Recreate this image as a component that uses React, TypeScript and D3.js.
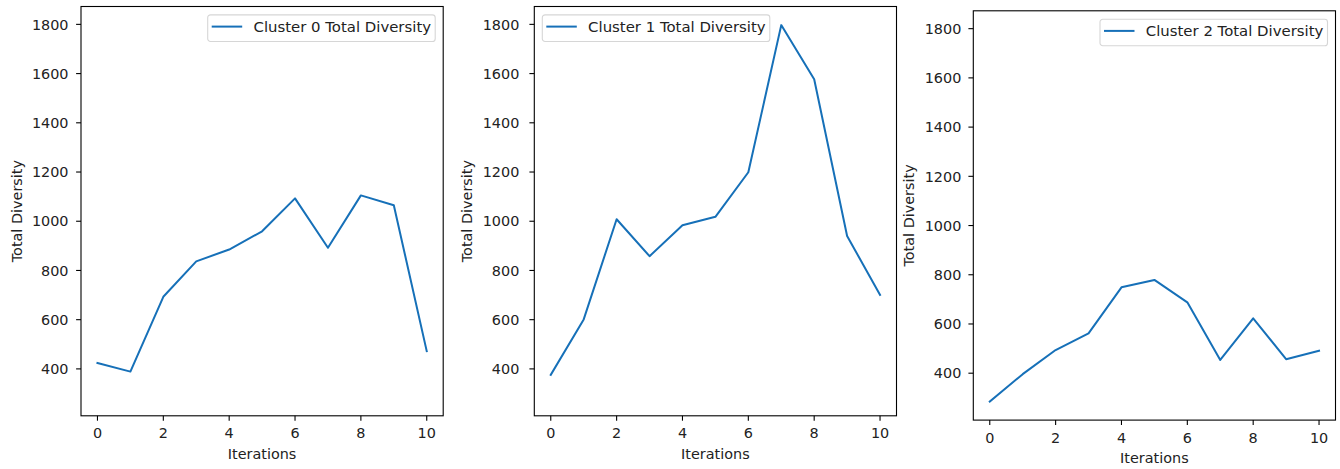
import React from "react";
import * as d3 from "d3";

const iterations = [0, 1, 2, 3, 4, 5, 6, 7, 8, 9, 10];
const cluster0 = [424, 389, 693, 837, 885, 959, 1093, 892, 1105, 1065, 472];
const cluster1 = [376, 601, 1008, 858, 984, 1018, 1199, 1797, 1577, 940, 701];
const cluster2 = [285, 396, 494, 562, 749, 779, 688, 454, 623, 457, 491];
const seriesNames = ["Cluster 0 Total Diversity", "Cluster 1 Total Diversity", "Cluster 2 Total Diversity"];
const xTicks = [0, 2, 4, 6, 8, 10];
const yTicks = [400, 600, 800, 1000, 1200, 1400, 1600, 1800];

const FONT = "DejaVu Sans, sans-serif";
const FS = 14.4;
const LINE = "#1670b8";

const panels = [
  { left: 81, top: 6.5, legendSide: "right", tickOff: 12.5, ylabOff: 59.5, values: cluster0, name: seriesNames[0] },
  { left: 534.3, top: 6.5, legendSide: "left", tickOff: 15, ylabOff: 62.3, values: cluster1, name: seriesNames[1] },
  { left: 973.3, top: 10.8, legendSide: "right", tickOff: 12, ylabOff: 59.3, values: cluster2, name: seriesNames[2] },
];
const W = 362.2;
const H = 409.3;

const all = [...cluster0, ...cluster1, ...cluster2];
const ymin = d3.min(all) as number;
const ymax = d3.max(all) as number;
const pad = (ymax - ymin) * 0.05;

function Panel({ p }: { p: typeof panels[number] }) {
  const x = d3.scaleLinear().domain([-0.5, 10.5]).range([0, W]);
  const y = d3.scaleLinear().domain([ymin - pad, ymax + pad]).range([H, 0]);
  const line = d3
    .line<number>()
    .x((_, i) => x(iterations[i]))
    .y((d) => y(d));
  const lw = 227.5;
  const lh = 26.6;
  const lx = p.legendSide === "right" ? W - 8 - lw : 8;
  const ly = 8.4;
  return (
    <g transform={`translate(${p.left},${p.top})`}>
      <path d={line(p.values) || ""} fill="none" stroke={LINE} strokeWidth={2} strokeLinejoin="round" strokeLinecap="square" />
      <rect x={0} y={0} width={W} height={H} fill="none" stroke="#000" strokeWidth={1.1} />
      {yTicks.map((t) => (
        <g key={t}>
          <line x1={-4.9} x2={0} y1={y(t)} y2={y(t)} stroke="#000" strokeWidth={1.1} />
          <text x={-p.tickOff} y={y(t) + 5.2} textAnchor="end" fontFamily={FONT} fontSize={FS} fill="#222">
            {t}
          </text>
        </g>
      ))}
      {xTicks.map((t) => (
        <g key={t}>
          <line x1={x(t)} x2={x(t)} y1={H} y2={H + 4.9} stroke="#000" strokeWidth={1.1} />
          <text x={x(t)} y={H + 22.6} textAnchor="middle" fontFamily={FONT} fontSize={FS} fill="#222">
            {t}
          </text>
        </g>
      ))}
      <text x={W / 2} y={H + 42.8} textAnchor="middle" fontFamily={FONT} fontSize={FS} fill="#222">
        Iterations
      </text>
      <text
        transform={`translate(${-p.ylabOff},${H / 2}) rotate(-90)`}
        textAnchor="middle"
        fontFamily={FONT}
        fontSize={FS}
        fill="#222"
      >
        Total Diversity
      </text>
      <g transform={`translate(${lx},${ly})`}>
        <rect x={0} y={0} width={lw} height={lh} rx={2.8} fill="#fff" fillOpacity={0.8} stroke="#d6d6d6" strokeWidth={1.1} />
        <line x1={4} x2={34.5} y1={lh / 2 - 1.6} y2={lh / 2 - 1.6} stroke={LINE} strokeWidth={2} />
        <text x={45.8} y={lh / 2 + 3.6} fontFamily={FONT} fontSize={14.9} fill="#222">
          {p.name}
        </text>
      </g>
    </g>
  );
}

export default function App() {
  return (
    <svg
      width={1340}
      height={469}
      style={{ position: "absolute", left: 0, top: 0, background: "#fff" }}
    >
      <rect x={0} y={0} width={1340} height={469} fill="#fff" />
      {panels.map((p, i) => (
        <Panel key={i} p={p} />
      ))}
    </svg>
  );
}
